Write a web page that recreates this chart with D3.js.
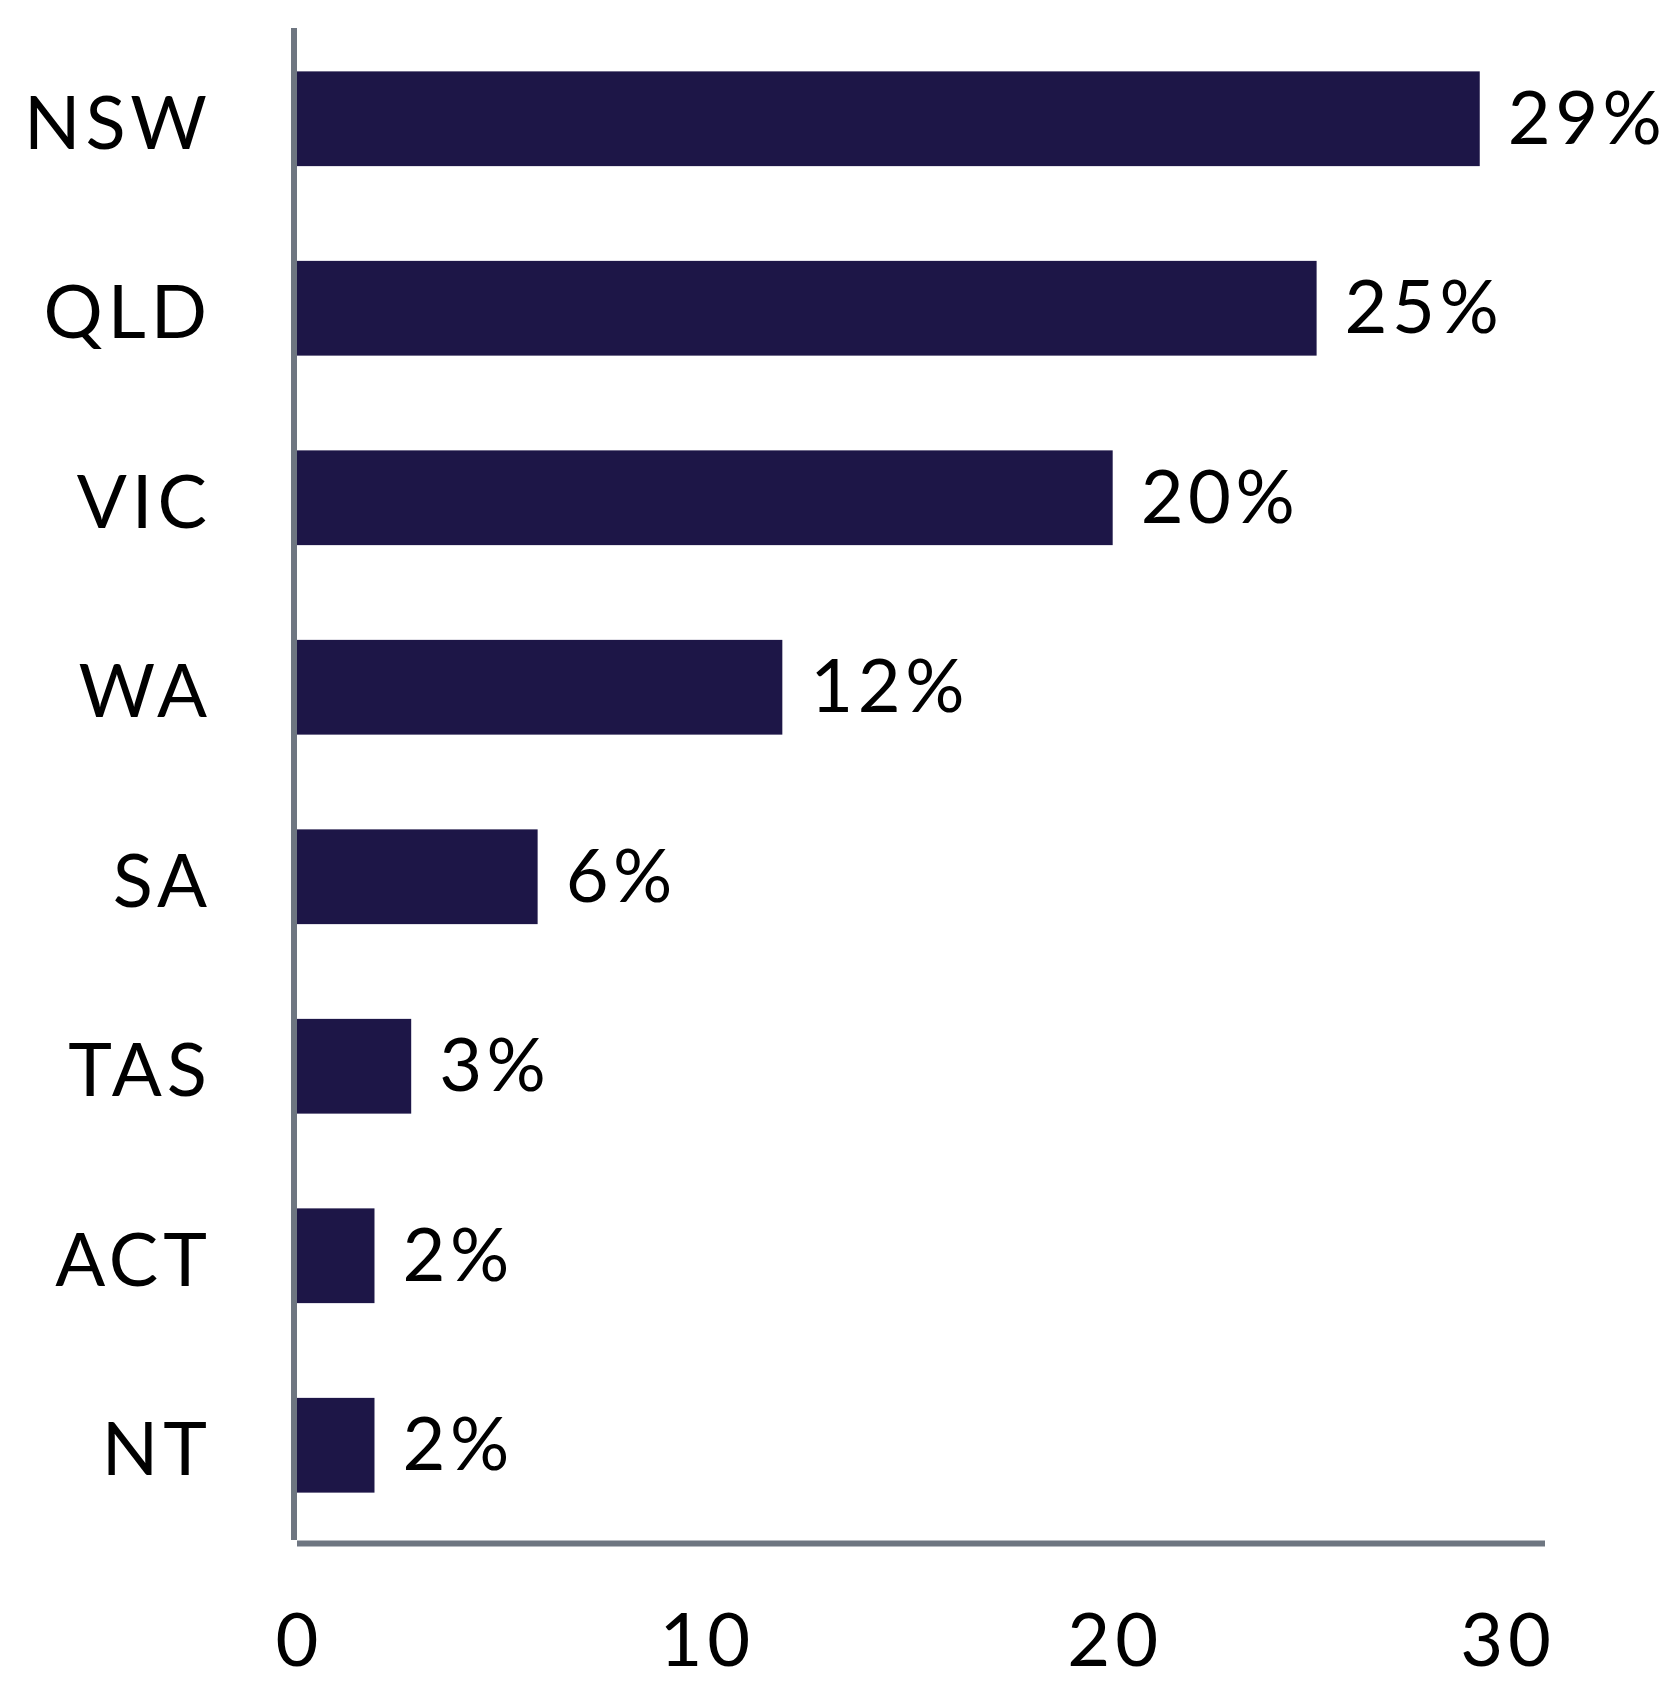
<!DOCTYPE html>
<html>
<head>
<meta charset="utf-8">
<script src="https://cdn.jsdelivr.net/npm/d3@7"></script>
<style>
  body { margin: 0; background: #fff; }
  text { font-family: Lato, "Noto Sans", sans-serif; fill: #000; letter-spacing: 5px; }
  .value-label { letter-spacing: 4.5px; }
  .value-label tspan { letter-spacing: 0; }
</style>
</head>
<body>
<div id="chart"></div>
<script>
// share of total by state/territory
const categories = ["NSW", "QLD", "VIC", "WA", "SA", "TAS", "ACT", "NT"];
const shares = [29, 25, 20, 11.9, 5.9, 2.8, 1.9, 1.9];
const shareLabels = ["29", "25", "20", "12", "6", "3", "2", "2"];
const xTicks = [0, 10, 20, 30];

const width = 1663, height = 1683;
const barColor = "#1d1647";
const axisColor = "#6e7681";
const fontSize = 74;

const svg = d3.select("#chart")
    .append("svg")
    .attr("width", width)
    .attr("height", height);

const x = d3.scaleLinear()
    .domain([0, 30.6])
    .range([297, 1545]);

const y = d3.scaleBand()
    .domain(categories)
    .range([24, 1540])
    .paddingInner(0.5)
    .paddingOuter(0.25);

const rows = categories.map((c, i) => ({ cat: c, value: shares[i], label: shareLabels[i] }));

// bars
svg.append("g")
    .selectAll("rect")
    .data(rows)
    .join("rect")
    .attr("x", x(0))
    .attr("y", d => y(d.cat))
    .attr("width", d => x(d.value) - x(0))
    .attr("height", y.bandwidth())
    .attr("fill", barColor);

// value labels
const valueLabels = svg.append("g")
    .selectAll("text")
    .data(rows)
    .join("text")
    .attr("class", "value-label")
    .attr("x", d => x(d.value) + 28)
    .attr("y", d => y(d.cat) + y.bandwidth() / 2 + 25)
    .style("font-size", fontSize + "px")
    .text(d => d.label);
valueLabels.append("tspan").text("%");

// category axis
const yAxis = svg.append("g")
    .attr("transform", "translate(" + (x(0) - 3) + ",0)")
    .call(d3.axisLeft(y).tickSize(0).tickPadding(82));
yAxis.select(".domain").remove();
yAxis.selectAll("text")
    .attr("dy", null)
    .attr("y", 30)
    .style("font-size", fontSize + "px");
yAxis.append("line")
    .attr("x1", 0).attr("x2", 0)
    .attr("y1", 28).attr("y2", 1540)
    .attr("stroke", axisColor)
    .attr("stroke-width", 6);

// value axis
const xAxis = svg.append("g")
    .attr("transform", "translate(0,1543.6)")
    .call(d3.axisBottom(x).tickValues(xTicks).tickSize(0).tickPadding(0));
xAxis.select(".domain").remove();
xAxis.append("line")
    .attr("x1", x.range()[0]).attr("x2", x.range()[1])
    .attr("stroke", axisColor)
    .attr("stroke-width", 6);
xAxis.selectAll(".tick text")
    .attr("dy", null)
    .attr("y", 122)
    .style("font-size", fontSize + "px")
    .attr("x", 2)
    .each(function (d) {
        // keep the last label from running past the axis end
        const w = this.getComputedTextLength() - 5;
        const over = x(d) + w / 2 - (x.range()[1] + 6);
        if (over > 0) d3.select(this).attr("x", 2 - over);
    });
</script>
</body>
</html>
